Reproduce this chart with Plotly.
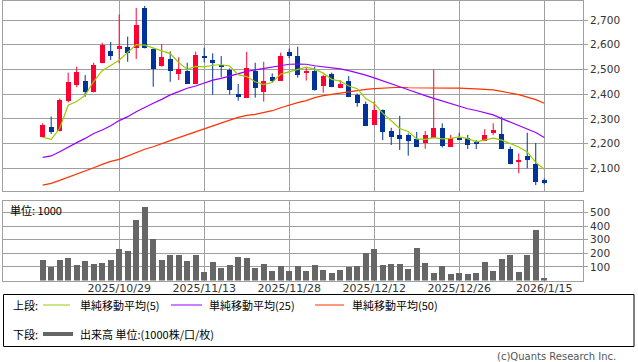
import plotly.graph_objects as go

# ---------------- data ----------------
dates = ["2025/10/16", "2025/10/17", "2025/10/20", "2025/10/21", "2025/10/22", "2025/10/23",
         "2025/10/24", "2025/10/27", "2025/10/28", "2025/10/29", "2025/10/30", "2025/10/31",
         "2025/11/4", "2025/11/5", "2025/11/6", "2025/11/7", "2025/11/10", "2025/11/11",
         "2025/11/12", "2025/11/13", "2025/11/14", "2025/11/17", "2025/11/18", "2025/11/19",
         "2025/11/20", "2025/11/21", "2025/11/25", "2025/11/26", "2025/11/27", "2025/11/28",
         "2025/12/1", "2025/12/2", "2025/12/3", "2025/12/4", "2025/12/5", "2025/12/8",
         "2025/12/9", "2025/12/10", "2025/12/11", "2025/12/12", "2025/12/15", "2025/12/16",
         "2025/12/17", "2025/12/18", "2025/12/19", "2025/12/22", "2025/12/23", "2025/12/24",
         "2025/12/25", "2025/12/26", "2025/12/29", "2025/12/30", "2026/1/5", "2026/1/6",
         "2026/1/7", "2026/1/8", "2026/1/9", "2026/1/13", "2026/1/14", "2026/1/15"]

opens = [2228, 2271, 2251, 2376, 2441, 2457, 2409, 2527, 2575, 2588, 2591, 2588, 2749, 2583, 2514,
         2546, 2482, 2494, 2445, 2558, 2542, 2521, 2499, 2401, 2386, 2494, 2410, 2473, 2455, 2571,
         2558, 2488, 2495, 2437, 2482, 2428, 2457, 2397, 2363, 2279, 2336, 2251, 2235, 2235, 2221,
         2204, 2225, 2266, 2188, 2225, 2223, 2208, 2214, 2245, 2239, 2181, 2127, 2150, 2120, 2053]
highs = [2282, 2309, 2382, 2487, 2511, 2477, 2527, 2608, 2611, 2722, 2633, 2749, 2757, 2585, 2603,
         2573, 2549, 2527, 2572, 2588, 2565, 2554, 2504, 2441, 2571, 2527, 2531, 2484, 2568, 2584,
         2592, 2506, 2511, 2479, 2487, 2457, 2473, 2403, 2370, 2370, 2338, 2264, 2312, 2241, 2247,
         2251, 2500, 2282, 2235, 2244, 2235, 2214, 2258, 2282, 2309, 2188, 2160, 2244, 2202, 2059]
lows = [2225, 2239, 2249, 2366, 2428, 2390, 2407, 2525, 2538, 2525, 2531, 2542, 2585, 2430, 2511,
        2450, 2457, 2441, 2441, 2529, 2398, 2468, 2398, 2374, 2384, 2386, 2370, 2446, 2453, 2545,
        2467, 2455, 2414, 2406, 2428, 2424, 2388, 2349, 2271, 2275, 2214, 2194, 2174, 2151, 2188,
        2179, 2221, 2184, 2186, 2214, 2178, 2178, 2212, 2235, 2178, 2116, 2080, 2100, 2032, 2035]
closes = [2279, 2248, 2380, 2453, 2490, 2410, 2522, 2599, 2558, 2596, 2568, 2680, 2588, 2502, 2554,
          2495, 2502, 2445, 2562, 2548, 2530, 2511, 2417, 2390, 2506, 2426, 2457, 2457, 2558, 2558,
          2479, 2492, 2419, 2477, 2433, 2444, 2390, 2366, 2275, 2336, 2248, 2228, 2219, 2212, 2190,
          2235, 2266, 2192, 2224, 2219, 2197, 2201, 2237, 2255, 2181, 2120, 2136, 2136, 2046, 2042]

volume = [151, 102, 151, 166, 115, 144, 122, 129, 151, 232, 218, 446, 541, 308, 151, 188, 188, 144,
          188, 63, 137, 95, 115, 173, 166, 95, 122, 71, 107, 71, 107, 71, 115, 78, 56, 78, 100, 107,
          203, 232, 115, 122, 122, 85, 240, 129, 56, 107, 49, 56, 49, 56, 137, 71, 159, 188, 63, 188,
          372, 17]

ma5 = [2225, 2217, 2262, 2355, 2370, 2396, 2451, 2495, 2516, 2537, 2569, 2600, 2598, 2587, 2578,
       2564, 2528, 2500, 2512, 2510, 2517, 2519, 2514, 2479, 2471, 2450, 2439, 2447, 2481, 2491,
       2502, 2509, 2501, 2485, 2460, 2453, 2433, 2422, 2382, 2362, 2323, 2291, 2261, 2249, 2219,
       2217, 2224, 2219, 2221, 2227, 2220, 2207, 2216, 2222, 2214, 2199, 2186, 2166, 2124, 2096]
ma25 = [2144, 2150, 2167, 2187, 2204, 2221, 2241, 2255, 2272, 2293, 2309, 2329, 2347, 2363, 2379,
        2397, 2410, 2424, 2433, 2444, 2457, 2464, 2473, 2484, 2492, 2498, 2504, 2508, 2515, 2521,
        2522, 2521, 2515, 2511, 2506, 2502, 2495, 2487, 2477, 2466, 2453, 2441, 2430, 2418, 2405,
        2394, 2383, 2372, 2360, 2350, 2341, 2334, 2325, 2316, 2301, 2287, 2274, 2260, 2245, 2225]
ma50 = [2032, 2039, 2051, 2063, 2077, 2090, 2102, 2116, 2128, 2136, 2150, 2163, 2177, 2187, 2201,
        2212, 2224, 2236, 2248, 2262, 2274, 2285, 2295, 2306, 2314, 2318, 2326, 2333, 2345, 2356,
        2366, 2374, 2386, 2394, 2399, 2405, 2409, 2415, 2419, 2422, 2424, 2426, 2428, 2426, 2425,
        2424, 2424, 2424, 2424, 2424, 2424, 2421, 2419, 2417, 2411, 2406, 2398, 2388, 2378, 2363]

price_ticks = [2100, 2200, 2300, 2400, 2500, 2600, 2700]
volume_ticks = [100, 200, 300, 400, 500]
date_ticks = ["2025/10/29", "2025/11/13", "2025/11/28", "2025/12/12", "2025/12/26", "2026/1/15"]

legend_top = ["単純移動平均(5)", "単純移動平均(25)", "単純移動平均(50)"]
legend_bottom = "出来高 単位:(1000株/口/枚)"
volume_unit = "単位: 1000"
copyright_text = "(c)Quants Research Inc."

# ---------------- styling ----------------
UP = "#FF0033"
DOWN = "#003399"
C5, C25, C50 = "#99CC00", "#9900FF", "#FF3300"
VOLC = "#666666"
GRID = "#A0A0A0"
FONT = "DejaVu Sans, Noto Sans CJK JP, sans-serif"
CJK = "Noto Sans CJK JP, DejaVu Sans, sans-serif"

W, H = 638, 362
PL, PR = 3, 583


def pxx(x):
    return (x - PL) / (PR - PL)


def pxy(y):
    return 1 - y / H


n = len(dates)
xs = list(range(n))
tick_idx = [dates.index(d) for d in date_ticks]

up = [i for i in xs if closes[i] >= opens[i]]
dn = [i for i in xs if closes[i] < opens[i]]


def wick(ids):
    wx, wy = [], []
    for i in ids:
        wx += [i, i, None]
        wy += [lows[i], highs[i], None]
    return wx, wy


fig = go.Figure()
for ids, col in ((up, UP), (dn, DOWN)):
    wx, wy = wick(ids)
    fig.add_trace(go.Scatter(x=wx, y=wy, mode="lines", line=dict(color=col, width=1),
                             hoverinfo="skip", showlegend=False, xaxis="x", yaxis="y"))
fig.add_trace(go.Bar(x=up, base=[opens[i] for i in up], y=[closes[i] - opens[i] for i in up],
                     width=0.62, marker=dict(color=UP, line=dict(width=0)),
                     showlegend=False, xaxis="x", yaxis="y"))
fig.add_trace(go.Bar(x=dn, base=[closes[i] for i in dn], y=[opens[i] - closes[i] for i in dn],
                     width=0.62, marker=dict(color=DOWN, line=dict(width=0)),
                     showlegend=False, xaxis="x", yaxis="y"))
for vals, col in ((ma50, C50), (ma25, C25), (ma5, C5)):
    fig.add_trace(go.Scatter(x=xs, y=vals, mode="lines", line=dict(color=col, width=1.2),
                             showlegend=False, xaxis="x", yaxis="y"))
fig.add_trace(go.Bar(x=xs, y=volume, width=0.7, marker=dict(color=VOLC, line=dict(width=0)),
                     showlegend=False, xaxis="x2", yaxis="y2"))

xr = [-4.67, 63.56]
common_x = dict(range=xr, tickvals=tick_idx, showgrid=True, gridcolor=GRID, gridwidth=1,
                showline=True, linecolor=GRID, linewidth=1, mirror=True, zeroline=False,
                automargin=False, fixedrange=True)

fig.update_layout(
    width=W, height=H,
    margin=dict(l=PL, r=W - PR, t=0, b=0),
    paper_bgcolor="white", plot_bgcolor="white",
    barmode="overlay", bargap=0,
    font=dict(family=FONT, size=11, color="#333333"),
    xaxis=dict(domain=[0, 1], anchor="y", showticklabels=False, ticks="", **common_x),
    yaxis=dict(domain=[pxy(190.7), pxy(0.5)], range=[2009.4, 2778.9], side="right",
               tickvals=price_ticks, tickformat=",d", ticks="outside", ticklen=4,
               tickcolor=GRID, tickfont=dict(size=10.5, color="#333333"),
               showgrid=True, gridcolor=GRID, showline=True, linecolor=GRID, mirror=True,
               zeroline=False, automargin=False, fixedrange=True),
    xaxis2=dict(domain=[0, 1], anchor="y2", matches="x", showticklabels=True, ticks="",
                ticktext=[dates[i] for i in tick_idx], tickfont=dict(size=11, color="#333333"),
                ticklabelstandoff=-3, **common_x),
    yaxis2=dict(domain=[pxy(280.6), pxy(201)], range=[0, 585], side="right",
                tickvals=volume_ticks, ticks="outside", ticklen=4, tickcolor=GRID,
                tickfont=dict(size=10.5, color="#333333"),
                showgrid=True, gridcolor=GRID, showline=True, linecolor=GRID, mirror=True,
                zeroline=False, automargin=False, fixedrange=True),
)

shapes = [dict(type="rect", xref="paper", yref="paper", x0=pxx(3.5), x1=pxx(634),
               y0=pxy(346.5), y1=pxy(294.5), line=dict(color="#000000", width=1))]
ann = [dict(text=volume_unit, x=pxx(8), y=pxy(209.5), xref="paper", yref="paper",
            xanchor="left", yanchor="middle", showarrow=False,
            font=dict(family=CJK, size=11, color="#000000"))]

row1, row2 = 305, 334
ann.append(dict(text="上段:", x=pxx(11), y=pxy(row1), xref="paper", yref="paper",
                xanchor="left", yanchor="middle", showarrow=False,
                font=dict(family=CJK, size=11, color="#000000")))
for (lx0, lx1, tx), col, lab in zip(((43, 70, 78), (171, 202, 207), (315, 344, 350)),
                                    (C5, C25, C50), legend_top):
    shapes.append(dict(type="line", xref="paper", yref="paper", x0=pxx(lx0), x1=pxx(lx1),
                       y0=pxy(row1), y1=pxy(row1), line=dict(color=col, width=1)))
    ann.append(dict(text=lab, x=pxx(tx), y=pxy(row1), xref="paper", yref="paper",
                    xanchor="left", yanchor="middle", showarrow=False,
                    font=dict(family=CJK, size=11, color="#000000")))
ann.append(dict(text="下段:", x=pxx(11), y=pxy(row2), xref="paper", yref="paper",
                xanchor="left", yanchor="middle", showarrow=False,
                font=dict(family=CJK, size=11, color="#000000")))
shapes.append(dict(type="line", xref="paper", yref="paper", x0=pxx(43), x1=pxx(73),
                   y0=pxy(row2), y1=pxy(row2), line=dict(color=VOLC, width=4)))
ann.append(dict(text=legend_bottom, x=pxx(78), y=pxy(row2), xref="paper", yref="paper",
                xanchor="left", yanchor="middle", showarrow=False,
                font=dict(family=CJK, size=11, color="#000000")))
ann.append(dict(text=copyright_text, x=pxx(618), y=pxy(356), xref="paper", yref="paper",
                xanchor="right", yanchor="middle", showarrow=False,
                font=dict(family=FONT, size=10, color="#555555")))

fig.update_layout(shapes=shapes, annotations=ann)
fig.write_html("out.html", config={"displayModeBar": False},
               post_script="document.body.style.margin='0';document.body.style.overflow='hidden';")
